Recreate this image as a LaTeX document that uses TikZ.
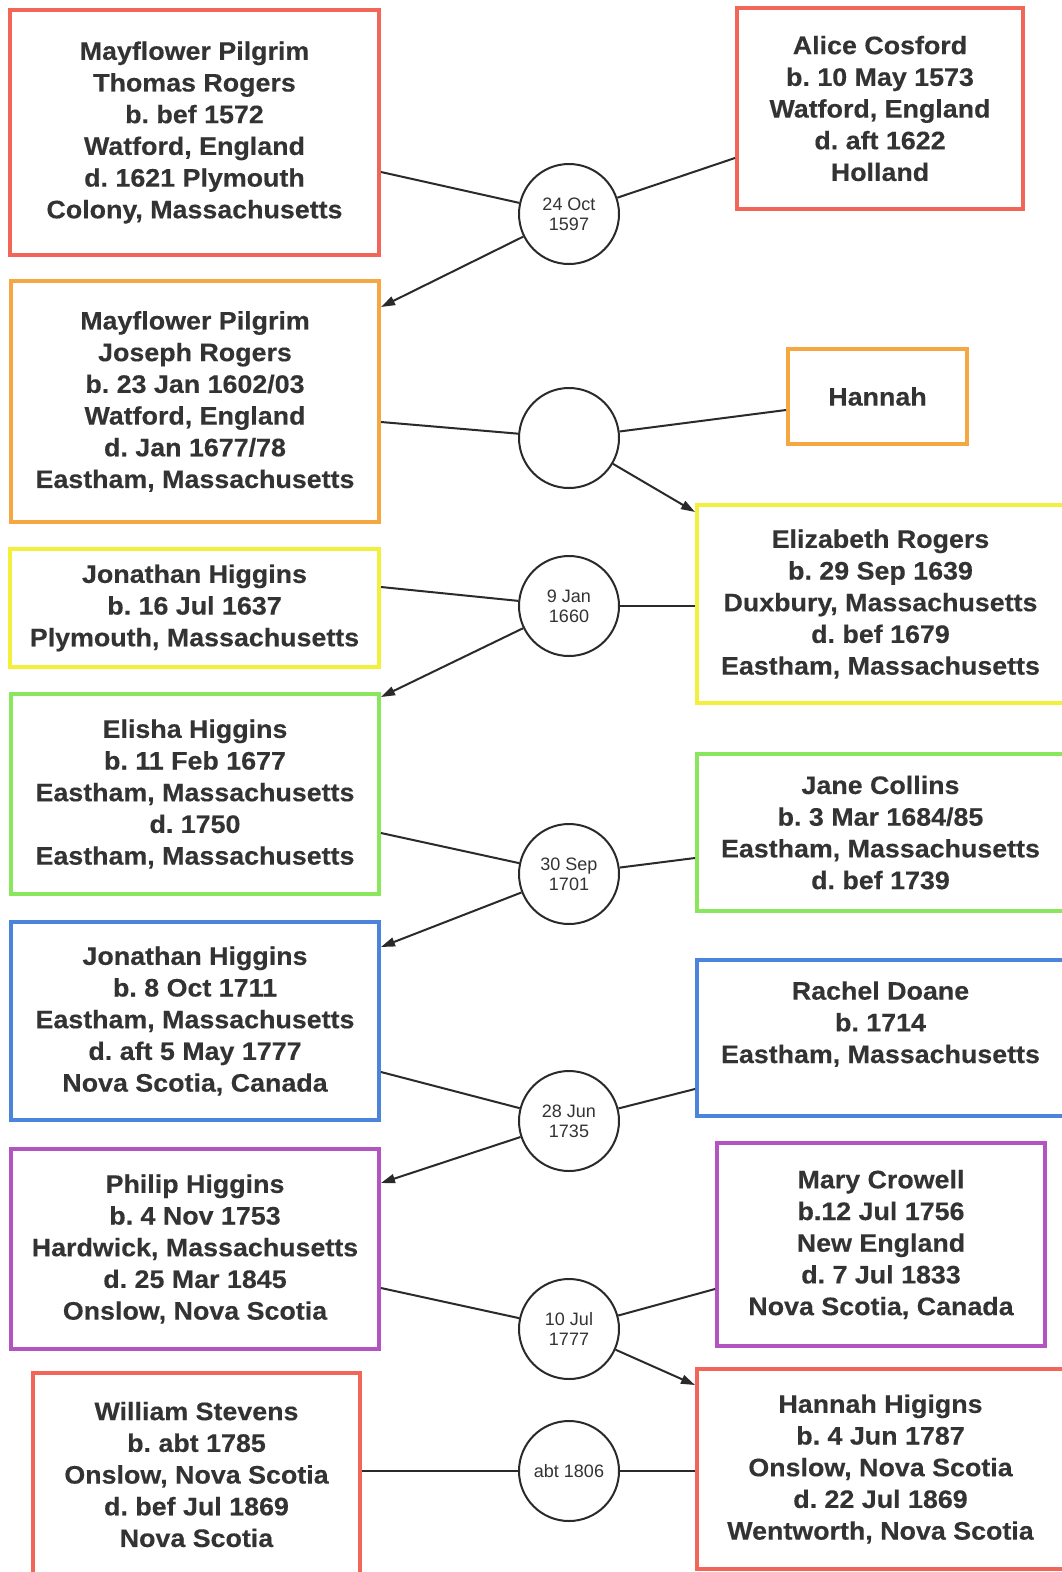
\documentclass[tikz,border=0pt]{standalone}
\usepackage{fontspec}
\setmainfont{Liberation Sans}
\newfontfamily\cardfont{Liberation Sans}[FakeStretch=1.06,FakeBold=0.3]
\usetikzlibrary{arrows.meta,calc}

\definecolor{genred}{HTML}{F2665A}
\definecolor{genorange}{HTML}{F5A742}
\definecolor{genyellow}{HTML}{F2F03C}
\definecolor{gengreen}{HTML}{8AE65C}
\definecolor{genblue}{HTML}{4C84DC}
\definecolor{genpurple}{HTML}{B355C0}
\definecolor{ink}{HTML}{333333}
\definecolor{wire}{HTML}{2A2A2A}

\frenchspacing
\begin{document}
\begin{tikzpicture}[x=1pt,y=-1pt,
  card/.style={draw=#1, line width=4pt, rectangle, inner sep=0pt, align=center,
    text=ink, font=\cardfont\bfseries\fontsize{25.3}{31.7}\selectfont},
  wed/.style={circle, draw=wire, line width=2pt, fill=white, minimum size=100pt,
    inner sep=0pt, align=center, text=ink, font=\fontsize{18}{20}\selectfont},
  tie/.style={draw=wire, line width=2pt},
  child/.style={tie, -{Triangle[length=14pt,width=9pt]}}]

\useasboundingbox (0,0) rectangle (1062,1572);
\fill[white] (0,0) rectangle (1062,1572);
\clip (0,0) rectangle (1062,1572);

% left column: the Rogers / Higgins line of descent
\node[card=genred, minimum width=369pt, minimum height=245pt] (thomas) at (194.5,132.5)
  {Mayflower Pilgrim\\Thomas Rogers\\b. bef 1572\\Watford, England\\d. 1621 Plymouth\\Colony, Massachusetts};
\node[card=genorange, minimum width=368pt, minimum height=241pt] (joseph) at (195,401.5)
  {Mayflower Pilgrim\\Joseph Rogers\\b. 23 Jan 1602/03\\Watford, England\\d. Jan 1677/78\\Eastham, Massachusetts};
\node[card=genyellow, minimum width=369pt, minimum height=118pt] (jonathanA) at (194.5,608)
  {Jonathan Higgins\\b. 16 Jul 1637\\Plymouth, Massachusetts};
\node[card=gengreen, minimum width=368pt, minimum height=200pt] (elisha) at (195,794)
  {Elisha Higgins\\b. 11 Feb 1677\\Eastham, Massachusetts\\d. 1750\\Eastham, Massachusetts};
\node[card=genblue, minimum width=368pt, minimum height=198pt] (jonathanB) at (195,1021)
  {Jonathan Higgins\\b. 8 Oct 1711\\Eastham, Massachusetts\\d. aft 5 May 1777\\Nova Scotia, Canada};
\node[card=genpurple, minimum width=368pt, minimum height=200pt] (philip) at (195,1249)
  {Philip Higgins\\b. 4 Nov 1753\\Hardwick, Massachusetts\\d. 25 Mar 1845\\Onslow, Nova Scotia};
\node[card=genred, minimum width=327pt, minimum height=203pt] (william) at (196.5,1474.5)
  {William Stevens\\b. abt 1785\\Onslow, Nova Scotia\\d. bef Jul 1869\\Nova Scotia};

% right column: spouses
\node[card=genred, minimum width=286pt, minimum height=201pt] (alice) at (880,108.5)
  {Alice Cosford\\b. 10 May 1573\\Watford, England\\d. aft 1622\\Holland};
\node[card=genorange, minimum width=179pt, minimum height=95pt] (hannah) at (877.5,396.5)
  {Hannah};
\node[card=genyellow, minimum width=367pt, minimum height=198pt] (elizabeth) at (880.5,604)
  {Elizabeth Rogers\\b. 29 Sep 1639\\Duxbury, Massachusetts\\d. bef 1679\\Eastham, Massachusetts};
\node[card=gengreen, minimum width=367pt, minimum height=157pt] (jane) at (880.5,832.5)
  {Jane Collins\\b. 3 Mar 1684/85\\Eastham, Massachusetts\\d. bef 1739};
\node[card=genblue, minimum width=367pt, minimum height=156pt] (rachel) at (880.5,1038)
  {Rachel Doane\\b. 1714\\Eastham, Massachusetts\\~};
\node[card=genpurple, minimum width=328pt, minimum height=203pt] (mary) at (881,1244.5)
  {Mary Crowell\\b.12 Jul 1756\\New England\\d. 7 Jul 1833\\Nova Scotia, Canada};
\node[card=genred, minimum width=367pt, minimum height=200pt] (hannahH) at (880.5,1469)
  {Hannah Higigns\\b. 4 Jun 1787\\Onslow, Nova Scotia\\d. 22 Jul 1869\\Wentworth, Nova Scotia};

% marriages
\node[wed] (m1) at (569,214) {24 Oct\\1597};
\node[wed] (m2) at (569,438) {};
\node[wed] (m3) at (569,606) {9 Jan\\1660};
\node[wed] (m4) at (569,874) {30 Sep\\1701};
\node[wed] (m5) at (569,1121) {28 Jun\\1735};
\node[wed] (m6) at (569,1329) {10 Jul\\1777};
\node[wed] (m7) at (569,1471) {abt 1806};

% couples joined at their marriage, child drawn from it
\draw[tie] ($(thomas.east)+(0,39.5)$) -- (m1);
\draw[tie] (m1) -- ($(alice.west)+(0,49.5)$);
\draw[child] (m1) -- ($(joseph.east)+(0,-94.5)$);

\draw[tie] ($(joseph.east)+(0,20.5)$) -- (m2);
\draw[tie] (m2) -- ($(hannah.west)+(0,13.5)$);
\draw[child] (m2) -- ($(elizabeth.west)+(0,-92)$);

\draw[tie] ($(jonathanA.east)+(0,-21)$) -- (m3);
\draw[tie] (m3) -- ($(elizabeth.west)+(0,2)$);
\draw[child] (m3) -- ($(elisha.east)+(0,-97)$);

\draw[tie] ($(elisha.east)+(0,39)$) -- (m4);
\draw[tie] (m4) -- ($(jane.west)+(0,25.5)$);
\draw[child] (m4) -- ($(jonathanB.east)+(0,-74)$);

\draw[tie] ($(jonathanB.east)+(0,51)$) -- (m5);
\draw[tie] (m5) -- ($(rachel.west)+(0,51)$);
\draw[child] (m5) -- ($(philip.east)+(0,-66)$);

\draw[tie] ($(philip.east)+(0,39)$) -- (m6);
\draw[tie] (m6) -- ($(mary.west)+(0,44.5)$);
\draw[child] (m6) -- ($(hannahH.west)+(0,-84)$);

\draw[tie] ($(william.east)+(0,-3.5)$) -- (m7);
\draw[tie] (m7) -- ($(hannahH.west)+(0,2)$);
\end{tikzpicture}
\end{document}
